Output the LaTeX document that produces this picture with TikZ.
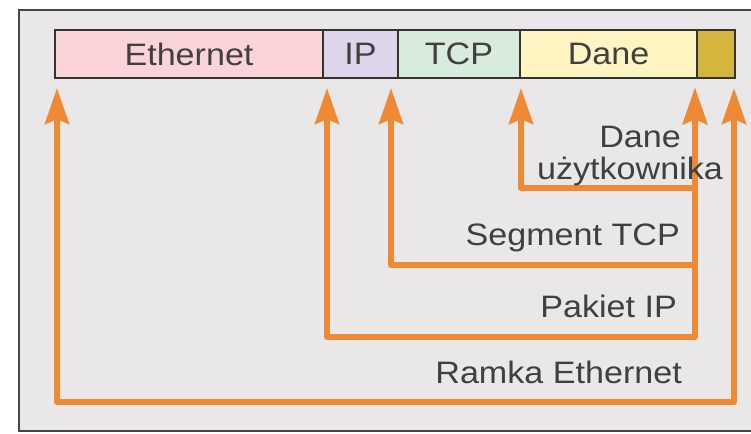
\documentclass[tikz,border=0pt]{standalone}
\usepackage{fontspec}
\setmainfont{Liberation Sans}[FakeStretch=1.1]
\usetikzlibrary{arrows.meta}

\definecolor{bgGray}{RGB}{233,231,231}
\definecolor{frameGray}{RGB}{70,70,70}
\definecolor{ethPink}{RGB}{250,212,217}
\definecolor{ipLilac}{RGB}{221,213,233}
\definecolor{tcpGreen}{RGB}{216,236,222}
\definecolor{daneYellow}{RGB}{255,245,194}
\definecolor{fcsGold}{RGB}{212,182,62}
\definecolor{encOrange}{RGB}{240,137,52}
\definecolor{txtGray}{RGB}{64,64,64}

\tikzstyle{cell}=[draw=black!80,line width=2pt,minimum height=48pt,inner sep=0pt,text=txtGray,font=\fontsize{31}{37}\selectfont]
\tikzstyle{encap}=[draw=encOrange,line width=6pt,line join=round,{Stealth[length=36pt,width=24pt,inset=5pt]}-{Stealth[length=36pt,width=24pt,inset=5pt]}]
\tikzstyle{note}=[inner sep=0pt,text=txtGray,font=\fontsize{31}{37}\selectfont]

\begin{document}
\begin{tikzpicture}[x=1pt,y=-1pt]
		\useasboundingbox (0,0) rectangle (751,433);
		\clip (0,0) rectangle (751,433);
		\draw [draw=frameGray,fill=bgGray,line width=2.5pt] (19,10) rectangle (770,431);

		\node [cell,fill=ethPink,minimum width=268pt]    (eth)  at (189,54)   {Ethernet};
		\node [cell,fill=ipLilac,minimum width=75pt]     (ip)   at (360.5,54) {IP};
		\node [cell,fill=tcpGreen,minimum width=122pt]   (tcp)  at (459,54)   {TCP};
		\node [cell,fill=daneYellow,minimum width=177pt] (dane) at (608.5,54) {Dane};
		\node [cell,fill=fcsGold,minimum width=38pt]     (fcs)  at (716,54)   {};

		\coordinate (ethTip)     at (57,88);
		\coordinate (ipTip)      at (327,88);
		\coordinate (tcpTip)     at (391,88);
		\coordinate (daneTip)    at (521,88);
		\coordinate (endTip)     at (695,88);
		\coordinate (fcsTip)     at (734,88);
		\coordinate (userCorner) at (695,188);
		\coordinate (segCorner)  at (695,265);
		\coordinate (pktCorner)  at (695,337);
		\coordinate (frmCorner)  at (734,402);

		\draw [encap] (ethTip)  |- (frmCorner)  -- (fcsTip);
		\draw [encap] (ipTip)   |- (pktCorner)  -- (endTip);
		\draw [encap] (tcpTip)  |- (segCorner)  -- (endTip);
		\draw [encap] (daneTip) |- (userCorner) -- (endTip);

		\node [note,anchor=base]      (userLbl1) at (640,147) {Dane};
		\node [note,anchor=base]      (userLbl2) at (630,179) {użytkownika};
		\node [note,anchor=base east] (segLbl)   at (680,245) {Segment TCP};
		\node [note,anchor=base east] (pktLbl)   at (677,317) {Pakiet IP};
		\node [note,anchor=base east] (frmLbl)   at (682,383) {Ramka Ethernet};
	\end{tikzpicture}
\end{document}
